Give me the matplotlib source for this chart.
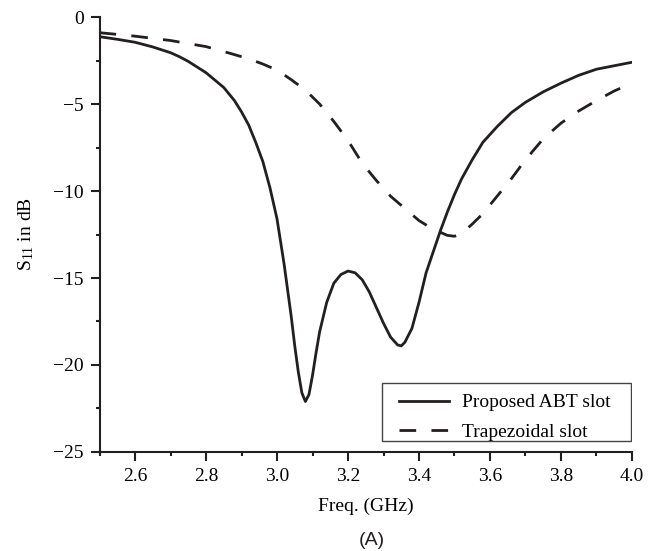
import numpy as np
import matplotlib
matplotlib.use('Agg')
import matplotlib.pyplot as plt
from matplotlib.patches import Rectangle
from matplotlib.ticker import MultipleLocator, FormatStrFormatter

# reflection coefficient S11 (dB) vs frequency (GHz)
freq_abt = [2.50, 2.55, 2.60, 2.65, 2.70, 2.725, 2.75, 2.80, 2.85, 2.88, 2.90, 2.92, 2.94,
            2.96, 2.98, 3.00, 3.02, 3.04, 3.05, 3.06, 3.07, 3.08, 3.09, 3.10, 3.11, 3.12, 3.14,
            3.16, 3.18, 3.20, 3.22, 3.24, 3.26, 3.28, 3.30, 3.32, 3.34, 3.35, 3.36,
            3.38, 3.40, 3.42, 3.44, 3.46, 3.48, 3.50, 3.52, 3.55, 3.58, 3.62, 3.66,
            3.70, 3.75, 3.80, 3.85, 3.90, 3.95, 4.00]
s11_abt = [-1.13, -1.28, -1.45, -1.72, -2.05, -2.28, -2.55, -3.2, -4.05, -4.8, -5.45, -6.2, -7.2,
           -8.3, -9.8, -11.6, -14.2, -17.2, -18.9, -20.4, -21.6, -22.1, -21.7, -20.6, -19.3, -18.1, -16.4,
           -15.3, -14.8, -14.6, -14.7, -15.1, -15.8, -16.7, -17.6, -18.4, -18.85, -18.9, -18.7,
           -17.9, -16.4, -14.7, -13.5, -12.3, -11.2, -10.2, -9.3, -8.2, -7.2, -6.3, -5.5,
           -4.9, -4.3, -3.8, -3.35, -3.0, -2.8, -2.6]

freq_trap = [2.50, 2.60, 2.70, 2.80, 2.87, 2.92, 2.96, 3.00, 3.04, 3.08, 3.12, 3.16,
             3.20, 3.24, 3.28, 3.32, 3.36, 3.40, 3.44, 3.48, 3.50, 3.52, 3.55, 3.58,
             3.62, 3.66, 3.70, 3.75, 3.80, 3.85, 3.90, 3.95, 4.00]
s11_trap = [-0.9, -1.1, -1.35, -1.7, -2.1, -2.4, -2.7, -3.05, -3.6, -4.2, -5.0, -6.0,
            -7.1, -8.4, -9.4, -10.3, -11.0, -11.7, -12.2, -12.55, -12.6, -12.45, -11.9, -11.3,
            -10.3, -9.3, -8.2, -7.0, -6.1, -5.4, -4.8, -4.25, -3.8]

labels = ['Proposed ABT slot', 'Trapezoidal slot']

plt.rcParams['font.family'] = ['Liberation Serif', 'DejaVu Serif']
plt.rcParams['mathtext.fontset'] = 'custom'
plt.rcParams['mathtext.rm'] = 'Liberation Serif'
plt.rcParams['mathtext.it'] = 'Liberation Serif:italic'
plt.rcParams['font.size'] = 14

ink = '#231f20'
fig = plt.figure(figsize=(6.56, 5.51), dpi=100)
ax = fig.add_axes([0.1517, 0.1797, 0.8117, 0.7894])

ax.plot(freq_abt, s11_abt, color=ink, linewidth=2.0, label=labels[0],
        solid_joinstyle='round')
trap, = ax.plot(freq_trap, s11_trap, color=ink, linewidth=2.0, label=labels[1])
trap.set_dashes([6, 5.5])

ax.set_xlim(2.5, 4.0)
ax.set_ylim(-25, 0)
ax.xaxis.set_major_locator(MultipleLocator(0.2))
ax.xaxis.set_minor_locator(MultipleLocator(0.1))
ax.xaxis.set_major_formatter(FormatStrFormatter('%.1f'))
ax.yaxis.set_major_locator(MultipleLocator(5))
ax.yaxis.set_minor_locator(MultipleLocator(2.5))

for side in ['top', 'right']:
    ax.spines[side].set_visible(False)
for side in ['left', 'bottom']:
    ax.spines[side].set_linewidth(1.5)
    ax.spines[side].set_color(ink)

ax.tick_params(which='major', direction='out', length=6.5, width=1.5, color=ink,
               labelsize=14, pad=5)
ax.tick_params(which='minor', direction='out', length=3, width=1.5, color=ink)

ax.set_xlabel('Freq. (GHz)', fontsize=14, labelpad=9)
ax.set_ylabel(r'S$_{\mathrm{11}}$ in dB', fontsize=14, labelpad=12)

# legend entries without frame, then a plain box around them
leg = ax.legend(loc='center left', bbox_to_anchor=(0.562, 0.080), borderaxespad=0,
                fontsize=14, handlelength=2.6, handletextpad=0.65,
                labelspacing=0.6, borderpad=0.0, frameon=False)
box = Rectangle((0.5305, 0.0253), 0.4675, 0.1333, transform=ax.transAxes,
                fill=False, edgecolor='#444444', linewidth=1.0, zorder=5)
ax.add_patch(box)

fig.text(0.567, 0.003, '(A)', fontsize=14, family='Liberation Sans', ha='center',
         va='bottom', color=ink)

fig.savefig('out.png', dpi=100)
